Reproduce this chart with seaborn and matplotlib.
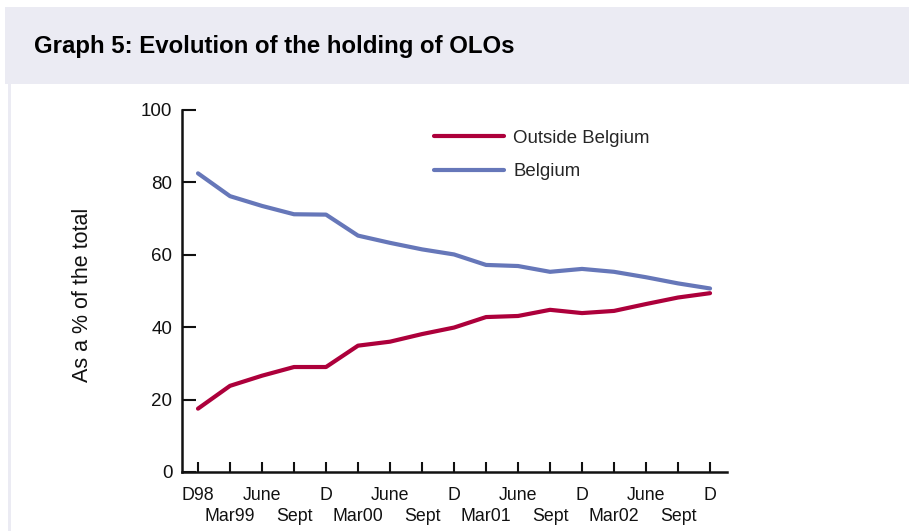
import numpy as np
import pandas as pd
import matplotlib
matplotlib.use("Agg")
import matplotlib.pyplot as plt
import seaborn as sns
from matplotlib.patches import Rectangle

sns.set_theme(style="white")
plt.rcParams["font.family"] = ["Liberation Sans", "DejaVu Sans"]

# data (% of total holding)
periods = ["D98", "Mar99", "June", "Sept", "D", "Mar00", "June", "Sept", "D",
           "Mar01", "June", "Sept", "D", "Mar02", "June", "Sept", "D"]
outside = [17.5, 23.8, 26.6, 29.0, 29.0, 34.9, 36.0, 38.1, 39.9,
           42.8, 43.1, 44.8, 43.9, 44.5, 46.4, 48.2, 49.4]
belgium = [82.5, 76.2, 73.5, 71.2, 71.1, 65.3, 63.3, 61.5, 60.1,
           57.2, 56.9, 55.3, 56.1, 55.3, 53.8, 52.1, 50.7]
series = ["Outside Belgium", "Belgium"]
colors = ["#ad003b", "#6677b9"]

idx = np.arange(len(periods))
df = pd.DataFrame({
    "i": np.concatenate([idx, idx]),
    "value": outside + belgium,
    "holder": [series[0]] * len(idx) + [series[1]] * len(idx),
})

fig = plt.figure(figsize=(9.09, 5.31), dpi=100)
fig.patch.set_facecolor("white")

# title band and left frame strip
fig.patches.append(Rectangle((5 / 909, 1 - 84 / 531), 1, 77 / 531, transform=fig.transFigure,
                             facecolor="#ebebf3", edgecolor="none", zorder=0))
fig.patches.append(Rectangle((8 / 909, 0), 3 / 909, 1 - 84 / 531, transform=fig.transFigure,
                             facecolor="#ebebf3", edgecolor="none", zorder=0))
fig.text(34 / 909, 1 - 46 / 531, "Graph 5: Evolution of the holding of OLOs",
         fontsize=17.3, fontweight="bold", va="center", ha="left", color="#000000")

ax = fig.add_axes([182 / 909, 59 / 531, 545 / 909, 362 / 531])
ax.set_facecolor("none")
sns.lineplot(data=df, x="i", y="value", hue="holder", hue_order=series,
             palette=colors, linewidth=3, ax=ax)

ax.set_xlim(-0.5, 16.53)
ax.set_ylim(0, 100)
ax.set_yticks([0, 20, 40, 60, 80, 100])

# staggered labels: even periods on the first row, odd ones on the second
ax.set_xticks(idx[::2])
ax.set_xticklabels(periods[::2], fontsize=12.8)
ax.set_xticks(idx[1::2], minor=True)
ax.set_xticklabels(periods[1::2], minor=True, fontsize=12.8)
ax.tick_params(axis="x", which="major", bottom=True, direction="in", length=7, width=1.5,
               pad=10.5, colors="#111111")
ax.tick_params(axis="x", which="minor", bottom=True, direction="in", length=7, width=1.5,
               pad=26, colors="#111111")
ax.tick_params(axis="y", left=True, direction="in", length=10, width=1.5, pad=7,
               labelsize=13.5, colors="#111111")
for s in ["top", "right"]:
    ax.spines[s].set_visible(False)
for s in ["left", "bottom"]:
    ax.spines[s].set_linewidth(1.8)
    ax.spines[s].set_color("#111111")

ax.set_xlabel("")
ax.set_ylabel("As a % of the total", fontsize=15.5, color="#111111")
ax.yaxis.set_label_coords(-0.163, 0.49)

leg = ax.legend(loc="upper left", bbox_to_anchor=(0.432, 0.992), frameon=False,
                fontsize=13.4, handlelength=3.76, handletextpad=0.48, labelspacing=0.9)
for line in leg.get_lines():
    line.set_linewidth(3)

fig.savefig("out.png", dpi=100)
